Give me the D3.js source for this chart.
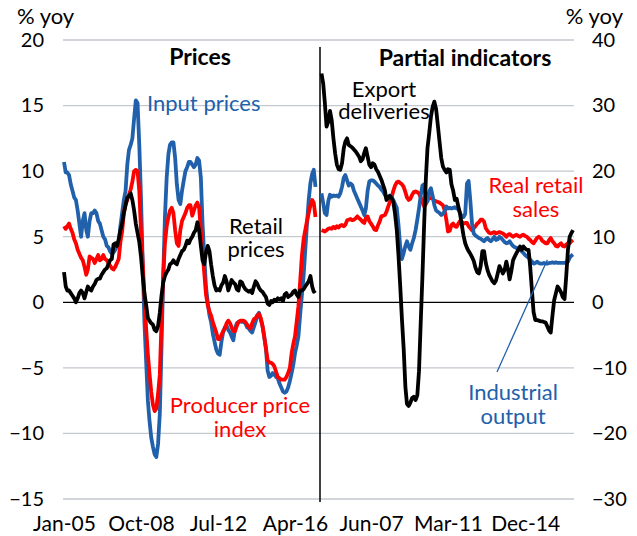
<!DOCTYPE html>
<html>
<head>
<meta charset="utf-8">
<script src="https://cdn.jsdelivr.net/npm/d3@7"></script>
<style>
  body { margin: 0; background: #fff; }
  svg text { font-family: Lato, "Open Sans", sans-serif; fill: #000; }
</style>
</head>
<body>
<script>
// chart size
var w = 637;
var h = 536;

// monthly data, Jan-05 to Apr-17 (148 months per series)
var firstMonth = new Date(2005, 0, 1);
var lastMonth = new Date(2017, 3, 1);

// Prices panel (left axis, % yoy)
var inputPrices = [
  10.7, 9.9, 9.9, 9.7, 9.0, 8.5, 8.0, 7.8, 7.0, 6.0,
  5.0, 6.2, 6.8, 5.5, 5.0, 6.2, 6.8, 6.8, 7.0, 6.8,
  6.2, 6.0, 5.5, 5.0, 4.8, 4.3, 4.2, 3.9, 3.7, 3.8,
  4.0, 4.3, 4.5, 5.8, 6.8, 7.8, 8.5, 10.5, 11.6, 12.0,
  12.5, 14.0, 15.4, 15.2, 12.0, 8.0, 3.0, -1.5, -4.5, -7.5,
  -9.0, -10.3, -11.0, -11.6, -11.8, -10.8, -8.5, -3.5, 2.0, 6.5,
  9.5, 11.3, 12.0, 12.2, 12.2, 11.0, 9.0, 7.8, 7.5, 8.5,
  9.3, 10.0, 10.3, 10.7, 10.7, 10.5, 10.3, 10.5, 11.0, 10.8,
  9.5, 6.0, 3.5, 1.2, 0.0, -1.0, -1.5, -2.4, -3.0, -3.6,
  -3.9, -4.0, -3.0, -2.3, -1.9, -1.8, -2.1, -2.3, -2.6, -2.9,
  -2.0, -1.6, -1.5, -1.45, -1.5, -1.5, -1.6, -1.9, -2.0, -2.2,
  -2.3, -1.9, -1.5, -1.0, -0.8, -1.3, -1.8, -2.6, -3.5, -5.2,
  -5.7, -5.6, -5.4, -5.5, -5.7, -5.8, -6.2, -6.5, -6.8, -6.9,
  -6.8, -6.5, -6.0, -5.4, -4.8, -3.9, -3.3, -2.6, -1.0, 0.5,
  2.0, 4.0, 6.0, 7.8, 9.1, 9.8, 10.1, 8.8
];
var producerPrices = [
  5.8, 5.6, 5.8, 6.0, 5.6, 5.3, 4.8, 4.5, 4.0, 3.7,
  3.4, 3.2, 2.7, 2.1, 2.5, 3.5, 3.4, 3.3, 3.0, 3.3,
  3.6, 3.2, 3.3, 3.6, 3.3, 3.2, 3.0, 2.8, 2.6, 2.5,
  2.7, 3.0, 3.3, 4.6, 5.4, 6.8, 7.5, 7.8, 8.2, 8.6,
  9.2, 10.0, 10.1, 10.0, 8.5, 5.5, 3.0, 0.5, -2.0, -4.0,
  -5.4, -6.8, -7.8, -8.3, -8.1, -7.0, -5.5, -1.5, 2.0, 4.5,
  5.8, 6.5, 7.0, 7.2, 6.8, 5.5, 4.5, 4.3, 5.5, 6.2,
  6.5, 6.8, 7.2, 7.4, 7.4, 6.6, 7.0, 7.4, 7.6, 7.2,
  5.5, 3.8, 2.2, 0.6, -0.2, -0.7, -1.0, -1.5, -1.9, -2.3,
  -2.8, -2.8, -2.5, -2.2, -2.0, -1.6, -1.4, -1.6, -1.9, -2.2,
  -2.2, -1.8, -1.5, -1.4, -1.4, -1.4, -1.5, -1.7, -1.9, -2.0,
  -1.6, -1.3, -1.2, -1.0, -0.9, -1.2, -1.8, -2.6, -3.5, -4.4,
  -4.6, -4.6, -4.7, -4.9, -5.3, -5.7, -5.8, -5.9, -5.9, -5.9,
  -5.7, -5.4, -5.0, -3.9, -3.2, -2.6, -1.5, -0.3, 1.5, 3.5,
  4.8, 5.5, 6.2, 6.8, 7.4, 7.8, 7.6, 6.5
];
var retailPrices = [
  2.3, 1.2, 0.9, 0.9, 0.7, 0.5, 0.3, 0.0, 0.3, 0.7,
  0.9, 0.7, 0.3, 0.8, 1.2, 1.0, 0.9, 1.2, 1.4, 1.7,
  1.8, 1.8, 2.1, 2.3, 2.5, 2.6, 2.9, 3.2, 3.3, 4.4,
  4.5, 4.3, 4.8, 5.5, 6.0, 6.8, 7.4, 8.0, 8.1, 8.3,
  7.8, 7.0, 6.0, 5.3, 4.6, 3.5, 2.0, 0.7, -0.2, -1.2,
  -1.4, -1.6, -1.7, -2.1, -2.2, -1.8, -0.8, 0.5, 1.5, 2.0,
  2.3, 2.5, 2.9, 3.0, 3.2, 3.0, 2.9, 3.3, 3.6, 3.9,
  4.0, 4.3, 4.7, 4.5, 4.8, 5.0, 5.3, 5.5, 6.1, 5.5,
  4.3, 3.2, 2.9, 3.8, 4.3, 3.9, 2.9, 2.0, 1.3, 0.9,
  1.0, 0.9, 1.3, 1.5, 2.0, 1.6, 0.9, 1.3, 1.7, 1.5,
  1.4, 1.0, 0.9, 1.6, 1.5, 1.2, 1.0, 0.9, 0.8, 0.9,
  0.7, 1.2, 1.6, 1.4, 1.1, 0.9, 0.8, 0.6, 0.4, -0.1,
  -0.2, 0.1, 0.0, 0.2, 0.1, 0.3, 0.2, 0.3, 0.1, 0.6,
  0.7, 0.4, 0.5, 0.6, 0.8, 0.9, 0.6, 0.4, 0.9, 0.9,
  1.0, 1.2, 1.4, 1.6, 2.0, 1.2, 0.8, 0.9
];

// Partial indicators panel (right axis, % yoy)
var exportDeliveries = [
  34.9, 33.3, 30.5, 26.8, 27.5, 29.2, 27.8, 25.0, 22.7, 21.0,
  20.3, 20.2, 21.2, 23.5, 24.5, 25.0, 24.0, 23.8, 23.6, 23.3,
  23.0, 22.6, 22.2, 21.5, 21.8, 22.8, 23.5, 22.2, 21.0, 20.6,
  21.2, 21.0, 20.3, 19.9, 19.3, 18.7, 17.9, 17.1, 15.6, 15.9,
  16.2, 15.9, 15.3, 13.5, 11.0, 7.2, 2.5, -2.5, -7.0, -12.9,
  -15.5, -15.8, -15.3, -14.6, -14.4, -14.9, -14.2, -10.5, -3.0, 4.0,
  12.0, 19.0, 23.5, 25.8, 28.3, 29.8, 30.6, 29.5, 27.0, 24.5,
  22.0, 20.7, 20.2, 19.8, 20.3, 20.2, 18.0, 17.0, 15.6, 15.8,
  14.6, 13.5, 11.8, 10.2, 9.0, 8.3, 7.8, 7.4, 6.9, 6.3,
  5.3, 4.6, 4.4, 5.5, 7.8, 7.8, 6.0, 4.9, 4.2, 3.7,
  3.2, 2.9, 3.3, 4.4, 5.5, 5.0, 4.4, 4.9, 6.2, 5.0,
  3.5, 4.8, 6.4, 7.0, 7.5, 8.0, 8.5, 8.0, 8.5, 8.2,
  8.0, 8.0, 5.5, 1.9, -1.5, -2.7, -2.7, -2.8, -2.9, -2.9,
  -3.0, -3.1, -3.7, -4.3, -4.6, -2.0, 0.3, 1.4, 2.4, 2.0,
  1.5, 0.8, 0.5, 3.9, 8.0, 10.0, 10.5, 11.0
];
var industrialOutput = [
  16.6, 15.1, 13.6, 13.3, 15.4, 16.4, 16.1, 16.3, 16.2, 16.3,
  16.1, 16.6, 17.6, 19.0, 19.4, 18.6, 17.8, 18.1, 17.9, 17.0,
  16.4, 15.8, 15.2, 14.6, 14.0, 13.3, 14.3, 17.0, 18.4, 18.6,
  18.6, 18.4, 18.1, 17.8, 17.6, 17.2, 16.9, 16.4, 15.9, 16.1,
  16.3, 16.0, 15.6, 15.0, 14.4, 11.8, 8.5, 6.6, 7.5, 8.6,
  9.3, 8.5, 8.0, 9.0, 9.8, 11.0, 12.6, 14.3, 16.3, 17.8,
  18.0, 16.0, 15.4, 16.9, 17.4, 16.2, 14.8, 14.0, 13.8, 13.6,
  13.3, 13.5, 13.9, 14.6, 14.3, 14.4, 14.3, 14.4, 14.5, 14.3,
  14.3, 13.6, 13.1, 13.0, 13.5, 18.1, 18.5, 15.5, 12.0, 10.5,
  10.2, 10.0, 9.8, 9.7, 9.5, 9.3, 9.6, 9.8, 9.5, 9.3,
  9.6, 10.0, 9.5, 9.6, 10.0, 9.8, 9.5, 9.2, 9.0, 9.1,
  9.3, 8.9, 8.6, 8.4, 8.3, 8.2, 8.0, 7.8, 7.5, 7.2,
  7.0, 6.8, 6.5, 6.2, 5.9, 6.0, 6.2, 6.0, 5.9, 5.9,
  6.0, 5.9, 5.9, 6.0, 6.0, 6.1, 6.0, 6.1, 6.0, 6.0,
  6.0, 6.0, 6.0, 6.1, 6.2, 6.8, 7.1, 7.3
];
var realRetailSales = [
  11.0, 10.9, 10.8, 11.0, 11.2, 11.3, 11.2, 11.5, 11.3, 11.6,
  11.4, 11.7, 11.8, 11.6, 11.8, 12.5, 12.6, 12.7, 12.5, 12.6,
  12.8, 13.1, 12.8, 12.6, 12.3, 12.1, 12.9, 13.1, 12.4, 12.0,
  11.6, 11.1, 11.0, 11.7, 12.3, 13.1, 13.2, 13.3, 13.8, 14.6,
  15.3, 16.0, 17.0, 17.8, 18.3, 18.4, 18.2, 18.0, 17.6, 16.8,
  16.0, 15.6, 15.8, 16.4, 16.8, 16.9, 16.8, 16.6, 16.0, 15.3,
  14.6, 15.0, 15.6, 15.9, 15.9, 15.8, 15.5, 15.4, 15.3, 15.2,
  15.0, 14.8, 14.0, 12.5, 10.8, 10.9, 11.8, 12.0, 11.6, 11.5,
  12.0, 12.4, 12.3, 12.0, 12.1, 12.1, 11.6, 11.3, 11.0, 11.3,
  11.6, 12.0, 12.2, 12.6, 12.6, 12.3, 11.3, 10.9, 10.6, 10.5,
  10.6, 10.7, 10.5, 10.6, 10.7, 10.6, 10.5, 10.3, 10.0, 10.3,
  10.4, 10.2, 10.0, 10.2, 10.3, 10.1, 10.0, 10.2, 10.3, 10.1,
  10.0, 9.7, 9.5, 9.2, 9.0, 9.4, 9.8, 10.0, 9.8, 9.4,
  9.2, 9.0, 9.0, 9.5, 9.8, 9.3, 9.0, 8.6, 8.5, 8.8,
  9.0, 8.6, 8.5, 8.8, 9.0, 9.0, 9.3, 9.5
];

// axis ticks
var leftTicks = [-15, -10, -5, 0, 5, 10, 15, 20];
var rightTicks = [-30, -20, -10, 0, 10, 20, 30, 40];
var leftDateTicks = [new Date(2005, 0, 1), new Date(2008, 9, 1), new Date(2012, 6, 1), new Date(2016, 3, 1)];
var rightDateTicks = [new Date(2007, 5, 1), new Date(2011, 2, 1), new Date(2014, 11, 1)];

var months = d3.timeMonth.range(firstMonth, d3.timeMonth.offset(lastMonth, 1));

var blue = "#2160aa";
var red = "#ff0000";

var svg = d3.select("body").append("svg")
    .attr("width", w)
    .attr("height", h);

svg.append("rect").attr("width", w).attr("height", h).attr("fill", "#fff");

// scales: both panels share the same vertical position of zero
var yLeft = d3.scaleLinear().domain([-15, 20]).range([499, 40]);
var yRight = d3.scaleLinear().domain([-30, 40]).range([499, 40]);
var xLeft = d3.scaleTime().domain([firstMonth, lastMonth]).range([64, 315.5]);
var xRight = d3.scaleTime().domain([firstMonth, lastMonth]).range([321.5, 573]);

var plotLeft = 63, plotRight = 574;

// gridlines
svg.append("g").selectAll("line")
  .data(leftTicks.filter(function(d) { return d !== 0; }))
  .enter().append("line")
    .attr("x1", plotLeft).attr("x2", plotRight)
    .attr("y1", function(d) { return yLeft(d); })
    .attr("y2", function(d) { return yLeft(d); })
    .attr("stroke", "#c3c9cf")
    .attr("stroke-width", 1.3);

// axes
var fs = 20;   // tick labels
var lfs = 22;  // series labels
function styleAxis(size) {
  return function(g) {
    g.select(".domain").remove();
    g.selectAll("text").attr("font-size", size).attr("font-family", "Lato, sans-serif").attr("fill", "#000");
  };
}

svg.append("g")
  .attr("transform", "translate(44,0)")
  .call(d3.axisLeft(yLeft).tickValues(leftTicks).tickSize(0).tickPadding(0))
  .call(styleAxis(fs));

svg.append("g")
  .attr("transform", "translate(592,0)")
  .call(d3.axisRight(yRight).tickValues(rightTicks).tickSize(0).tickPadding(0))
  .call(styleAxis(fs));

svg.append("g")
  .attr("transform", "translate(0,499)")
  .call(d3.axisBottom(xLeft).tickValues(leftDateTicks).tickSize(0).tickPadding(17).tickFormat(d3.timeFormat("%b-%y")))
  .call(styleAxis(21));

svg.append("g")
  .attr("transform", "translate(0,499)")
  .call(d3.axisBottom(xRight).tickValues(rightDateTicks).tickSize(0).tickPadding(17).tickFormat(d3.timeFormat("%b-%y")))
  .call(styleAxis(21));

// zero line and panel divider
svg.append("line")
  .attr("x1", plotLeft).attr("x2", plotRight)
  .attr("y1", yLeft(0)).attr("y2", yLeft(0))
  .attr("stroke", "#000").attr("stroke-width", 1.2);

svg.append("line")
  .attr("x1", 320).attr("x2", 320)
  .attr("y1", 47).attr("y2", 502)
  .attr("stroke", "#000").attr("stroke-width", 1.5);

// series lines
function drawSeries(values, x, y, color) {
  var line = d3.line()
    .x(function(d, i) { return x(months[i]); })
    .y(function(d) { return y(d); });
  svg.append("path")
    .datum(values)
    .attr("d", line)
    .attr("fill", "none")
    .attr("stroke", color)
    .attr("stroke-width", 3.8)
    .attr("stroke-linejoin", "round");
}

drawSeries(inputPrices, xLeft, yLeft, blue);
drawSeries(producerPrices, xLeft, yLeft, red);
drawSeries(retailPrices, xLeft, yLeft, "#000");

drawSeries(realRetailSales, xRight, yRight, red);
drawSeries(industrialOutput, xRight, yRight, blue);
drawSeries(exportDeliveries, xRight, yRight, "#000");

// leader line for industrial output
svg.append("line")
  .attr("x1", 497).attr("y1", 372)
  .attr("x2", xRight(new Date(2016, 0, 1))).attr("y2", yRight(6.5))
  .attr("stroke", blue).attr("stroke-width", 1.3);

// text
function label(x, y, str, opts) {
  opts = opts || {};
  svg.append("text")
    .attr("x", x).attr("y", y)
    .attr("text-anchor", opts.anchor || "middle")
    .attr("font-size", opts.size || lfs)
    .attr("font-weight", opts.bold ? "bold" : "normal")
    .style("fill", opts.color || "#000")
    .text(str);
}

// two-line labels
function label2(x, y, lines, color, gap) {
  svg.append("text")
    .attr("x", x).attr("y", y)
    .attr("text-anchor", "middle")
    .attr("font-size", lfs)
    .style("fill", color || "#000")
    .selectAll("tspan")
    .data(lines)
    .enter().append("tspan")
      .attr("x", x)
      .attr("dy", function(d, i) { return i === 0 ? 0 : gap; })
      .text(function(d) { return d; });
}

label(17, 24, "% yoy", {anchor: "start", size: 22});
label(623, 24, "% yoy", {anchor: "end", size: 22});
label(200, 65, "Prices", {bold: true, size: 23});
label(465, 66, "Partial indicators", {bold: true, size: 23});
label(147, 111, "Input prices", {anchor: "start", color: blue});
label2(256, 234, ["Retail", "prices"], "#000", 23);
label2(240, 413, ["Producer price", "index"], red, 24);
label2(384, 97, ["Export", "deliveries"], "#000", 22);
label2(536, 193, ["Real retail", "sales"], red, 24);
label2(513, 400, ["Industrial", "output"], blue, 24);
</script>
</body>
</html>
